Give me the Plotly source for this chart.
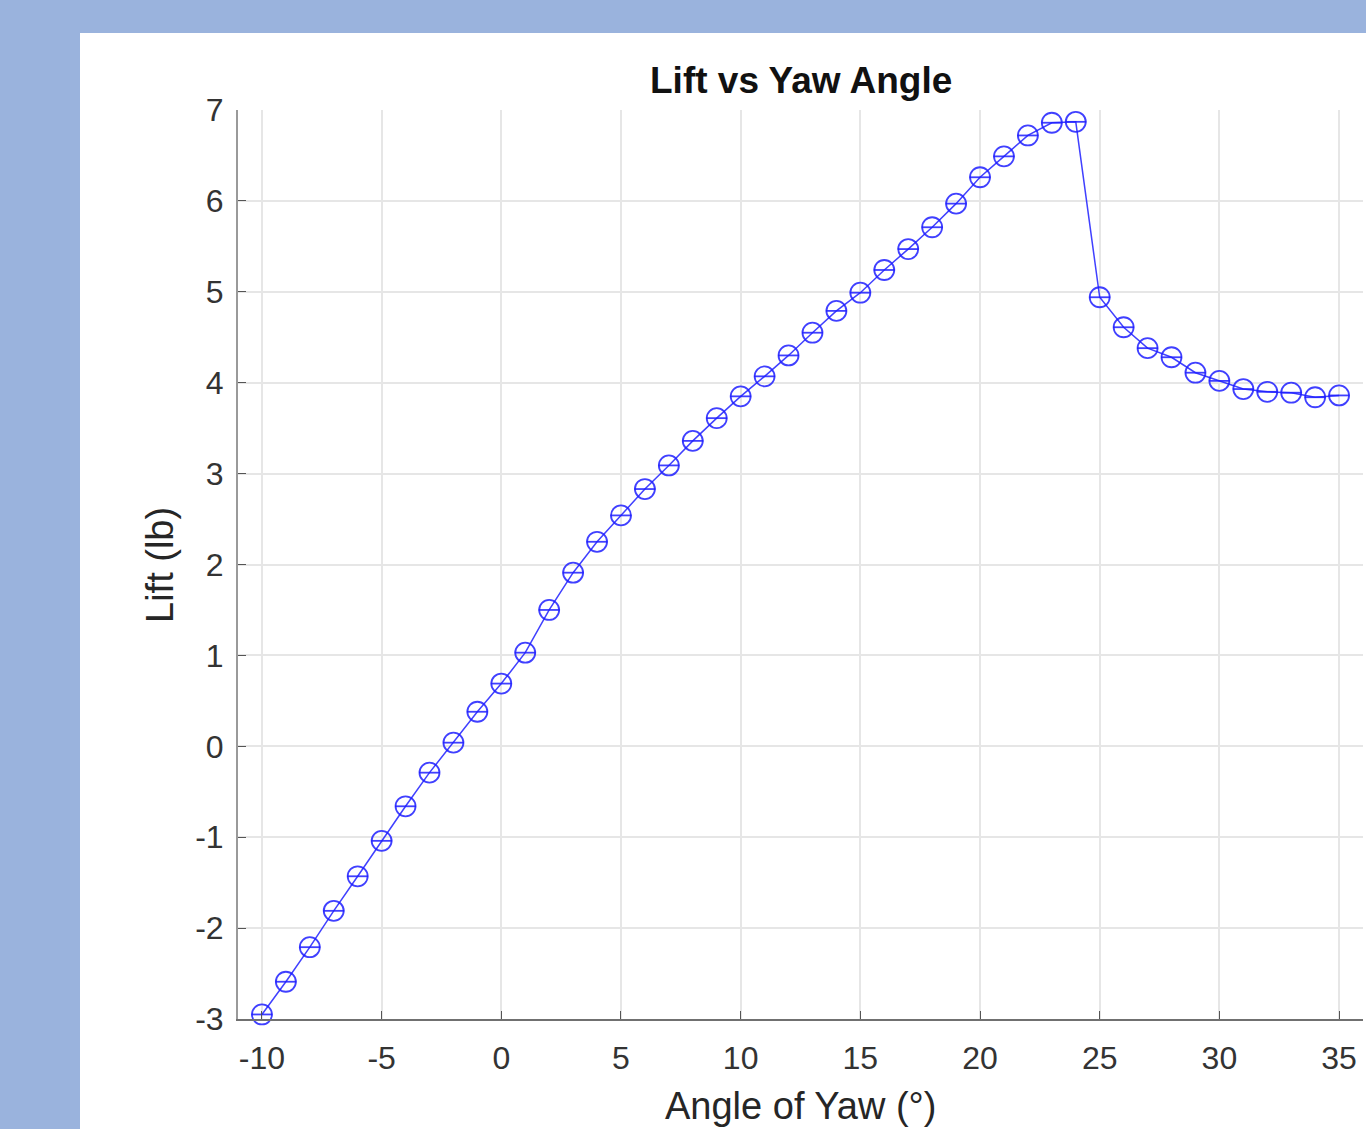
import plotly.graph_objects as go

yaw_deg = list(range(-10, 36))
lift_lb = [-2.95, -2.59, -2.21, -1.81, -1.43, -1.04, -0.66, -0.29, 0.04, 0.38,
           0.69, 1.03, 1.50, 1.91, 2.25, 2.54, 2.83, 3.09, 3.36, 3.61,
           3.85, 4.07, 4.30, 4.55, 4.79, 4.99, 5.24, 5.47, 5.71, 5.97,
           6.26, 6.49, 6.72, 6.86, 6.87, 4.94, 4.61, 4.38, 4.28, 4.11,
           4.02, 3.93, 3.90, 3.89, 3.84, 3.86]

x_ticks = list(range(-10, 36, 5))
x_tick_text = [str(v) for v in x_ticks]
y_ticks = list(range(-3, 8))
y_tick_text = [str(v) for v in y_ticks]

blue = "rgba(30,30,255,0.85)"
font_fam = "Liberation Sans, Arial, Helvetica, sans-serif"
txt = "#262626"

fig = go.Figure()
fig.add_trace(go.Scatter(
    x=yaw_deg, y=lift_lb, mode="lines+markers",
    line=dict(color=blue, width=1.5),
    marker=dict(symbol="circle-open", size=20, color=blue, line=dict(width=1.8, color=blue)),
    showlegend=False, cliponaxis=False))
fig.add_trace(go.Scatter(
    x=yaw_deg, y=lift_lb, mode="markers",
    marker=dict(symbol="line-ew-open", size=15, color=blue, line=dict(width=1.8, color=blue)),
    showlegend=False, cliponaxis=False))

L, T, W, H = 238, 110, 1125, 909
fig.update_layout(
    width=1366, height=1129,
    margin=dict(l=L, r=1366 - L - W, t=T, b=1129 - T - H, pad=0),
    paper_bgcolor="#9AB3DD", plot_bgcolor="white",
    font=dict(family=font_fam, color=txt, size=32),
    xaxis=dict(range=[-11, 36], tickvals=x_ticks, ticktext=x_tick_text,
               ticks="inside", ticklen=8,
               tickcolor="#555555", showline=True, linecolor="#707070", linewidth=2,
               showgrid=True, gridcolor="#e6e6e6", gridwidth=1.5, zeroline=False,
               tickfont=dict(size=32, color="#333333"), ticklabelstandoff=10),
    yaxis=dict(range=[-3, 7], tickvals=y_ticks, ticktext=y_tick_text,
               ticks="inside", ticklen=8,
               tickcolor="#555555", showline=True, linecolor="#9a9a9a", linewidth=2,
               showgrid=True, gridcolor="#e6e6e6", gridwidth=1.5, zeroline=False,
               tickfont=dict(size=32, color="#333333"), ticklabelstandoff=6),
    shapes=[dict(type="rect", xref="paper", yref="paper",
                 x0=(80 - L) / W, x1=1.2, y0=-0.3, y1=(T + H - 33) / H,
                 fillcolor="white", line=dict(width=0), layer="below")],
    annotations=[
        dict(text="<b>Lift vs Yaw Angle</b>", xref="paper", yref="paper",
             x=(801 - L) / W, y=(T + H - 80) / H, xanchor="center", yanchor="middle",
             showarrow=False, font=dict(size=37, color="#111111")),
        dict(text="Angle of Yaw (°)", xref="paper", yref="paper",
             x=(800 - L) / W, y=(T + H - 1106) / H, xanchor="center", yanchor="middle",
             showarrow=False, font=dict(size=38, color=txt)),
        dict(text="Lift (lb)", xref="paper", yref="paper", textangle=-90,
             x=(160 - L) / W, y=(T + H - 565) / H, xanchor="center", yanchor="middle",
             showarrow=False, font=dict(size=38, color=txt)),
    ],
)
fig.write_html("out.html")
